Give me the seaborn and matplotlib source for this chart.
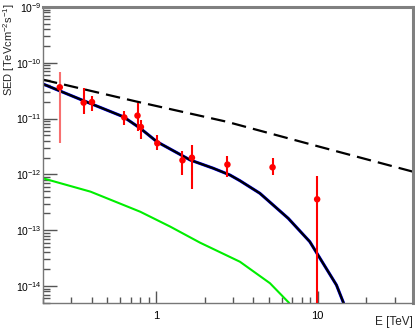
import matplotlib
matplotlib.use("Agg")
import matplotlib.pyplot as plt
import matplotlib.ticker as mticker
import seaborn as sns
import pandas as pd
import numpy as np

# ---- data ----
E_pts = [0.254, 0.357, 0.402, 0.637, 0.769, 0.807, 1.02, 1.46, 1.67, 2.77, 5.27, 9.95]
sed_pts = [3.64e-11, 1.93e-11, 1.98e-11, 1.05e-11, 1.13e-11, 7.07e-12, 3.61e-12,
           1.79e-12, 1.99e-12, 1.50e-12, 1.34e-12, 3.58e-13]
sed_hi = [6.76e-11, 3.58e-11, 2.54e-11, 1.37e-11, 1.88e-11, 9.44e-12, 5.08e-12,
          2.60e-12, 3.37e-12, 2.15e-12, 1.94e-12, 9.5e-13]
sed_lo = [3.70e-12, 1.19e-11, 1.39e-11, 7.59e-12, 5.92e-12, 4.31e-12, 2.77e-12,
          9.64e-13, 5.5e-13, 8.9e-13, 9.6e-13, 1e-15]

E_model = [0.2, 0.357, 0.628, 0.80, 1.014, 1.63, 2.26, 2.87, 3.31, 4.40, 6.59, 8.96, 13.1, 14.5]
sed_model = [4.17e-11, 2.09e-11, 1.08e-11, 6.70e-12, 3.85e-12, 1.81e-12, 1.29e-12,
             9.75e-13, 7.71e-13, 4.58e-13, 1.63e-13, 6.22e-14, 1.04e-14, 4.95e-15]

E_green = [0.2, 0.394, 0.80, 1.225, 1.876, 3.31, 5.08, 6.68]
sed_green = [8.5e-13, 4.9e-13, 2.14e-13, 1.16e-13, 5.97e-14, 2.72e-14, 1.12e-14, 4.95e-15]

E_dash = [0.2, 0.764, 2.74, 10.3, 38.9]
sed_dash = [4.98e-11, 2.01e-11, 8.79e-12, 3.13e-12, 1.12e-12]

x_ticks = [1, 10]
x_tick_labels = ["1", "10"]

# ---- style ----
sns.set_theme(style="white")
plt.rcParams["font.family"] = ["Liberation Sans", "DejaVu Sans"]
plt.rcParams["mathtext.fontset"] = "custom"
plt.rcParams["mathtext.rm"] = "Liberation Sans"
plt.rcParams["mathtext.it"] = "Liberation Sans"
plt.rcParams["mathtext.default"] = "regular"

fig = plt.figure(figsize=(4.15, 3.30), dpi=100)
ax = fig.add_axes([43 / 415, 1 - 303 / 330, 370 / 415, 296 / 330])
ax.set_xscale("log")
ax.set_yscale("log")

df_dash = pd.DataFrame({"E": E_dash, "SED": sed_dash})
df_model = pd.DataFrame({"E": E_model, "SED": sed_model})
df_green = pd.DataFrame({"E": E_green, "SED": sed_green})
df_pts = pd.DataFrame({"E": E_pts, "SED": sed_pts, "hi": sed_hi, "lo": sed_lo})

sns.lineplot(data=df_dash, x="E", y="SED", ax=ax, color="black", lw=1.6,
             linestyle=(0, (6.5, 3.2)), sort=False)
sns.lineplot(data=df_green, x="E", y="SED", ax=ax, color="#00ee00", lw=1.5, sort=False)
sns.lineplot(data=df_model, x="E", y="SED", ax=ax, color="#0000ff", lw=2.2, sort=False)
sns.lineplot(data=df_model, x="E", y="SED", ax=ax, color="black", lw=1.6, sort=False)

bar_colors = ["#f77070"] + ["#ff0000"] * (len(E_pts) - 1)
ax.vlines(df_pts["E"], df_pts["lo"], df_pts["hi"], colors=bar_colors, lw=1.5, zorder=4)
sns.scatterplot(data=df_pts, x="E", y="SED", ax=ax, color="#ff0000", s=22,
                edgecolor="none", zorder=5)

ax.set_xlim(0.2, 39)
ax.set_ylim(10 ** -14.305, 1e-9)

# ticks
ax.xaxis.set_major_locator(mticker.FixedLocator(x_ticks))
ax.xaxis.set_major_formatter(mticker.FixedFormatter(x_tick_labels))
ax.xaxis.set_minor_locator(mticker.LogLocator(base=10, subs=np.arange(2, 10), numticks=20))
ax.xaxis.set_minor_formatter(mticker.NullFormatter())
ax.yaxis.set_major_locator(mticker.LogLocator(base=10, numticks=20))
ax.yaxis.set_major_formatter(mticker.LogFormatterSciNotation())
ax.yaxis.set_minor_locator(mticker.LogLocator(base=10, subs=np.arange(2, 10), numticks=20))
ax.yaxis.set_minor_formatter(mticker.NullFormatter())

ax.tick_params(axis="both", which="both", direction="in", colors="#555555",
               labelcolor="black", labelsize=8, top=False, right=False,
               bottom=True, left=True)
ax.tick_params(axis="y", which="major", length=10, width=1, pad=1, labelsize=7.5)
ax.tick_params(axis="y", which="minor", length=5, width=1)
ax.tick_params(axis="x", which="major", length=9, width=1, pad=6)
ax.tick_params(axis="x", which="minor", length=4.5, width=1)

for side in ["left", "bottom"]:
    ax.spines[side].set_color("#777777")
    ax.spines[side].set_linewidth(1.0)
for side in ["top", "right"]:
    ax.spines[side].set_color("#808080")
    ax.spines[side].set_linewidth(2.2)

ax.set_xlabel("E [TeV]", loc="right", fontsize=8.5)
ax.xaxis.set_label_coords(1.0, -0.044)
ax.set_ylabel("SED [TeVcm$^{-2}$s$^{-1}$]", loc="top", fontsize=8)
ax.yaxis.set_label_coords(-0.071, 1.013)

fig.savefig("out.png", dpi=100)
